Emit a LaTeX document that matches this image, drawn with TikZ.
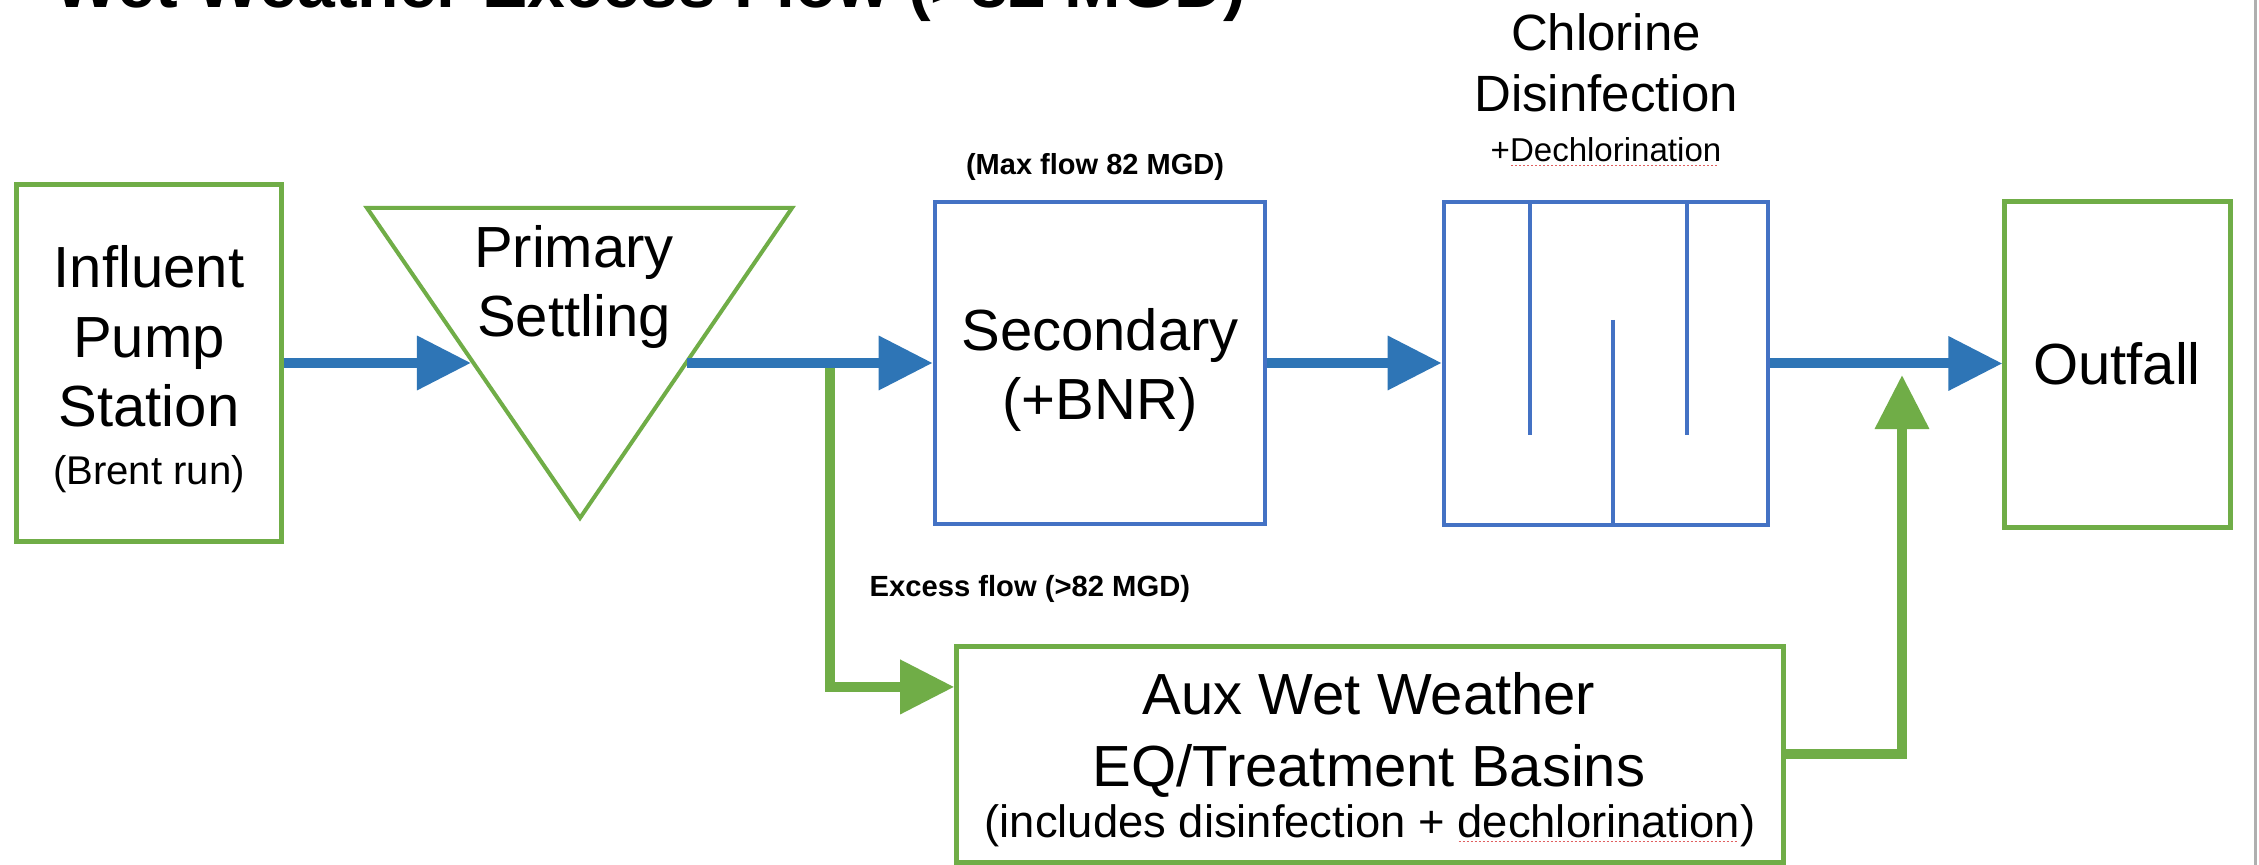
\documentclass[tikz,border=0pt]{standalone}
\usepackage{fontspec}
\setmainfont{Liberation Sans}
\usetikzlibrary{arrows.meta,calc}
\definecolor{ggreen}{RGB}{112,173,71}
\definecolor{bbox}{RGB}{68,114,196}
\definecolor{barr}{RGB}{46,117,182}
\definecolor{squig}{RGB}{224,96,96}
\definecolor{edgegray}{RGB}{175,175,175}
\newcommand\spellmark[1]{\setbox0=\hbox{#1}\rlap{\color{squig}\raisebox{-0.045cm}{\hbox to \wd0{\leaders\hbox to 0.04cm{\hss\rule{0.02cm}{0.015cm}\hss}\hfill}}}\box0}
\tikzset{
  gboxst/.style={draw=ggreen, line width=0.05cm, minimum width=#1, inner sep=0pt},
  bboxst/.style={draw=bbox, line width=0.045cm, inner sep=0pt},
  mainfont/.style={font=\fontsize{16.5pt}{19.9pt}\selectfont, align=center, inner sep=0pt, anchor=base},
  barrow/.style={draw=barr, line width=0.1cm, -{Triangle[length=0.54cm, width=0.52cm]}},
  garrow/.style={draw=ggreen, line width=0.1cm, -{Triangle[length=0.54cm, width=0.52cm]}},
}
\begin{document}
\begin{tikzpicture}[x=0.01cm, y=-0.01cm]
\useasboundingbox (0,0) rectangle (2259,865);
\clip (0,0) rectangle (2259,865);
\fill[white] (0,0) rectangle (2259,865);

% title (cut off at top, as in the reference)
\node[font=\fontsize{19.3pt}{23pt}\selectfont\bfseries, anchor=base west, inner sep=0pt] (title) at (54,8) {Wet Weather Excess Flow (>82 MGD)};

% boxes
\node[gboxst=2.64cm, minimum height=3.56cm] (inf) at (149,363) {};
\draw[draw=ggreen, line width=0.04cm, line join=miter] (367,208) -- (792,208) -- (580,518) -- cycle;
\coordinate (primL) at (471,363);
\coordinate (primR) at (687,363);
\coordinate (split) at (830,363);
\node[bboxst, minimum width=3.30cm, minimum height=3.22cm] (sec) at (1100,363) {};
\node[bboxst, minimum width=3.24cm, minimum height=3.23cm] (chl) at (1606,363.5) {};
\draw[draw=bbox, line width=0.04cm] (1530,202) -- (1530,435);
\draw[draw=bbox, line width=0.04cm] (1613,320) -- (1613,525);
\draw[draw=bbox, line width=0.04cm] (1687,202) -- (1687,435);
\node[gboxst=2.25cm, minimum height=3.25cm] (out) at (2117.5,364.5) {};
\node[gboxst=8.26cm, minimum height=2.15cm] (aux) at (1370,754.5) {};
\coordinate (merge) at (1902,375);

% green excess-flow connectors
\draw[garrow] (split) |- ([yshift=0.675cm]aux.west);
\draw[garrow] (aux.east) -| (merge);

% blue main flow
\draw[barrow] (inf.east) -- (inf.east -| primL);
\draw[barrow] (primR) -- (primR -| sec.west);
\draw[barrow] (sec.east) -- (sec.east -| chl.west);
\draw[barrow] (chl.east) -- (chl.east -| out.west);

% texts (multi-line nodes: base = last line's baseline)
\node[mainfont] (inftxt) at (149,427) {Influent\\Pump\\Station};
\node[font=\fontsize{11.4pt}{13.7pt}\selectfont, inner sep=0pt, anchor=base] (inftxt2) at (149,485) {(Brent run)};
\node[mainfont] (primtxt) at (574,337) {Primary\\Settling};
\node[mainfont] (sectxt) at (1100,420) {Secondary\\(+BNR)};
\node[mainfont] (outtxt) at (2117,385) {Outfall};
\node[font=\fontsize{14.5pt}{17.6pt}\selectfont, align=center, inner sep=0pt, anchor=base] (chltxt) at (1606,112) {Chlorine\\Disinfection};
\node[font=\fontsize{9.4pt}{11pt}\selectfont, inner sep=0pt, anchor=base] (chltxt2) at (1606,162) {+\spellmark{Dechlorination}};
\node[font=\fontsize{8.25pt}{10pt}\selectfont\bfseries, inner sep=0pt, anchor=base] (maxtxt) at (1095,175) {(Max flow 82 MGD)};
\node[font=\fontsize{8.3pt}{10pt}\selectfont\bfseries, inner sep=0pt, anchor=base west] (exctxt) at (869,597) {Excess flow (>82 MGD)};
\node[font=\fontsize{16.5pt}{20.6pt}\selectfont, align=center, inner sep=0pt, anchor=base] (auxtxt) at (1369,787) {Aux Wet Weather\\EQ/Treatment Basins};
\node[font=\fontsize{12.9pt}{15pt}\selectfont, inner sep=0pt, anchor=base] (auxtxt2) at (1370,838) {(includes disinfection + \spellmark{dechlorination})};

% right page edge line
\draw[draw=edgegray, line width=0.03cm] (2255,0) -- (2255,865);
\end{tikzpicture}
\end{document}
